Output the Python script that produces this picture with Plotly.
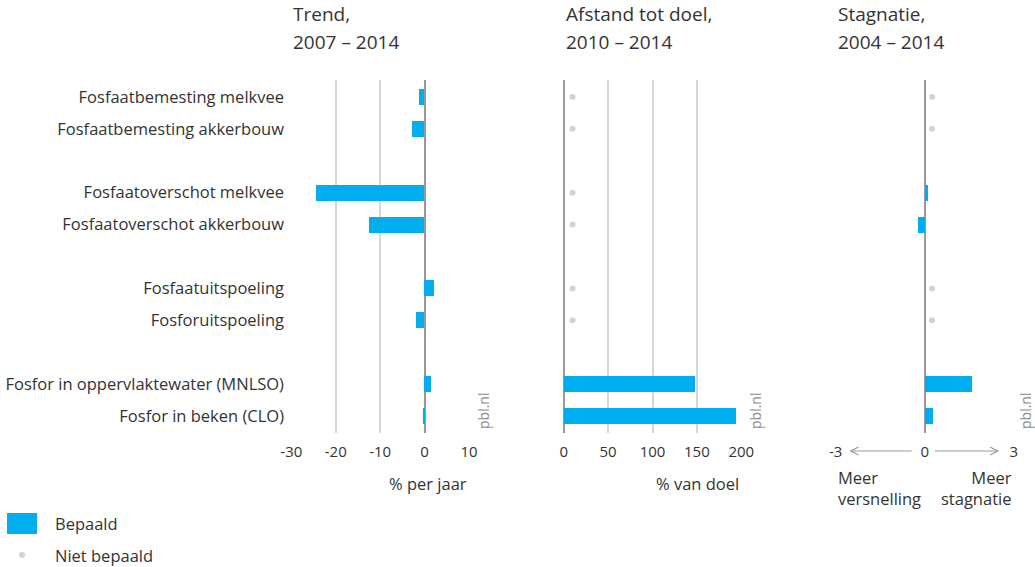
import plotly.graph_objects as go

# indicators, in pairs
labels = [
    "Fosfaatbemesting melkvee",
    "Fosfaatbemesting akkerbouw",
    "Fosfaatoverschot melkvee",
    "Fosfaatoverschot akkerbouw",
    "Fosfaatuitspoeling",
    "Fosforuitspoeling",
    "Fosfor in oppervlaktewater (MNLSO)",
    "Fosfor in beken (CLO)",
]
trend = [-1.1, -2.7, -24.3, -12.4, 2.3, -1.9, 1.5, -0.4]          # % per jaar
afstand = [None, None, None, None, None, None, 148, 194]          # % van doel
stagnatie = [None, None, 0.1, -0.24, None, None, 1.6, 0.27]

trend_ticks = [-30, -20, -10, 0, 10]
afstand_ticks = [0, 50, 100, 150, 200]
stagnatie_ticks = [-3, 0, 3]

BLUE = "#00AEEF"
DOT = "#d3d3d3"
GRID = "#d6d6d6"
TXT = "#333333"
FONT = "Open Sans"

# one empty row between each pair
pos = [i + i // 2 for i in range(len(labels))]

W, H = 1035, 567
T, B = 80, 134
PH = H - T - B


def px(x):
    return x / W


def py(y):
    return (H - B - y) / PH


fig = go.Figure()

panels = [
    ("x", "y", trend, 10),
    ("x2", "y2", afstand, 10),
    ("x3", "y3", stagnatie, 0.25),
]
for xa, ya, vals, dot_x in panels:
    bx = [v for v in vals if v is not None]
    by = [p for v, p in zip(vals, pos) if v is not None]
    fig.add_trace(go.Bar(x=bx, y=by, orientation="h", width=0.5,
                         marker=dict(color=BLUE, line=dict(width=0)),
                         xaxis=xa, yaxis=ya, showlegend=False))
    if xa != "x":
        dy = [p for v, p in zip(vals, pos) if v is None]
        fig.add_trace(go.Scatter(x=[dot_x] * len(dy), y=dy, mode="markers",
                                 marker=dict(color=DOT, size=6),
                                 xaxis=xa, yaxis=ya, showlegend=False))

xcommon = dict(showgrid=True, gridcolor=GRID, gridwidth=1.5,
               zeroline=True, zerolinecolor="#9a9a9a", zerolinewidth=1.5,
               showline=False, ticks="outside", ticklen=5,
               tickcolor="rgba(0,0,0,0)", tickfont=dict(size=15, color=TXT),
               automargin=False, fixedrange=True)
ycommon = dict(range=[10.53, -0.53], showgrid=False, zeroline=False,
               showline=False, automargin=False, fixedrange=True)

fig.update_layout(
    width=W, height=H,
    margin=dict(l=0, r=0, t=T, b=B),
    paper_bgcolor="white", plot_bgcolor="white",
    font=dict(family=FONT, color=TXT),
    bargap=0,
    xaxis=dict(domain=[px(291.3), px(469)], range=[-30, 10],
               tickvals=trend_ticks, ticktext=[str(t) for t in trend_ticks], **xcommon),
    xaxis2=dict(domain=[px(563.7), px(741.3)], range=[0, 200],
                tickvals=afstand_ticks, ticktext=[str(t) for t in afstand_ticks], **xcommon),
    xaxis3=dict(domain=[px(835.7), px(1013.7)], range=[-3, 3],
                tickvals=stagnatie_ticks, ticktext=[str(t) for t in stagnatie_ticks], **xcommon),
    yaxis=dict(anchor="x", tickvals=pos, ticktext=labels, ticks="outside",
               ticklen=3, tickcolor="rgba(0,0,0,0)",
               tickfont=dict(size=16.5, color=TXT), **ycommon),
    yaxis2=dict(anchor="x2", showticklabels=False, **ycommon),
    yaxis3=dict(anchor="x3", showticklabels=False, **ycommon),
)

ann = []
# panel titles
for x0, l1, l2 in [(291, "Trend,", "2007 – 2014"),
                   (564, "Afstand tot doel,", "2010 – 2014"),
                   (836, "Stagnatie,", "2004 – 2014")]:
    ann.append(dict(x=px(x0), y=py(14), text=l1))
    ann.append(dict(x=px(x0), y=py(42), text=l2))
for a in ann:
    a.update(xref="paper", yref="paper", xanchor="left", yanchor="middle",
             showarrow=False, font=dict(size=19, color=TXT))

# axis titles
ann.append(dict(x=px(469), y=py(483), text="% per jaar", xanchor="right"))
ann.append(dict(x=px(741), y=py(483), text="% van doel", xanchor="right"))
ann.append(dict(x=px(836), y=py(488), text="Meer<br>versnelling", xanchor="left", align="left"))
ann.append(dict(x=px(1014), y=py(488), text="Meer<br>stagnatie", xanchor="right", align="right"))
# legend texts
ann.append(dict(x=px(53), y=py(523), text="Bepaald", xanchor="left"))
ann.append(dict(x=px(53), y=py(555), text="Niet bepaald", xanchor="left"))
for a in ann[6:]:
    a.update(xref="paper", yref="paper", yanchor="middle", showarrow=False,
             font=dict(size=16.5, color=TXT))

# source marks
for x0 in [483, 755, 1025]:
    ann.append(dict(x=px(x0), y=py(411), xref="paper", yref="paper",
                    text="pbl.nl", textangle=-90, showarrow=False,
                    xanchor="center", yanchor="middle",
                    font=dict(size=14, color="#8a8a8a")))
fig.update_layout(annotations=ann)

shapes = []
# legend markers
shapes.append(dict(type="rect", xref="paper", yref="paper",
                   x0=px(7), x1=px(37), y0=py(534), y1=py(513),
                   fillcolor=BLUE, line=dict(width=0)))
shapes.append(dict(type="circle", xref="paper", yref="paper",
                   x0=px(19), x1=px(25), y0=py(558), y1=py(552),
                   fillcolor=DOT, line=dict(width=0)))
# arrows on the stagnatie axis
ay = py(451)
ah = 4 / PH
aw = 0.27
for a0, a1 in [(0.34, 2.47), (-0.44, -2.5)]:
    d = 1 if a1 > a0 else -1
    for xs, ys, xe, ye in [(a0, ay, a1, ay),
                           (a1 - d * aw, ay + ah, a1, ay),
                           (a1 - d * aw, ay - ah, a1, ay)]:
        shapes.append(dict(type="line", xref="x3", yref="paper",
                           x0=xs, y0=ys, x1=xe, y1=ye,
                           line=dict(color="#9a9a9a", width=1.2)))
fig.update_layout(shapes=shapes)

fig.write_html("out.html", config={"displayModeBar": False},
               post_script="document.body.style.margin='0';"
                           "document.body.style.overflow='hidden';")
